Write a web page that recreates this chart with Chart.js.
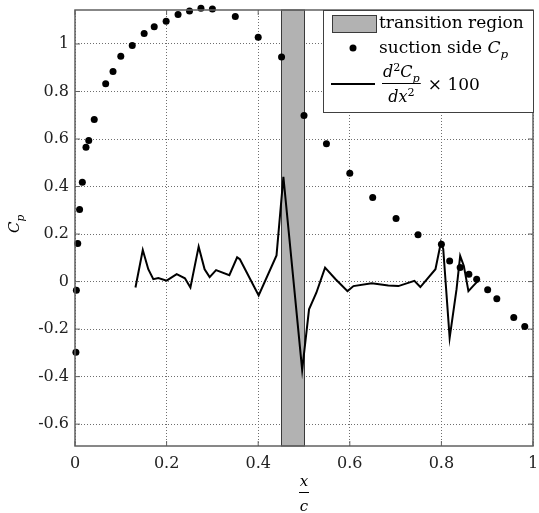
<!DOCTYPE html>
<html>
<head>
<meta charset="utf-8">
<script src="https://cdn.jsdelivr.net/npm/chart.js@4/dist/chart.umd.min.js"></script>
<style>
    html, body { margin: 0; padding: 0; background: #fff; }
    #wrap { width: 539px; height: 513px; }
</style>
</head>
<body>
<div id="wrap"><canvas id="cp-chart"></canvas></div>
<script>
// Suction side Cp (x/c, Cp)
var cpX = [0.002, 0.003, 0.006, 0.010, 0.016, 0.024, 0.030, 0.042, 0.067, 0.083, 0.100, 0.125, 0.151, 0.173, 0.199, 0.225, 0.250, 0.275, 0.300, 0.350, 0.400, 0.451, 0.500, 0.549, 0.600, 0.650, 0.701, 0.749, 0.800, 0.818, 0.841, 0.860, 0.877, 0.901, 0.921, 0.958, 0.982];
var cpY = [-0.297, -0.036, 0.160, 0.303, 0.418, 0.565, 0.594, 0.682, 0.833, 0.884, 0.948, 0.994, 1.044, 1.073, 1.096, 1.124, 1.139, 1.150, 1.147, 1.116, 1.028, 0.945, 0.699, 0.580, 0.456, 0.354, 0.265, 0.197, 0.157, 0.087, 0.059, 0.031, 0.010, -0.034, -0.072, -0.151, -0.189];

// Second derivative x 100 (x/c, value)
var d2X = [0.132, 0.148, 0.160, 0.171, 0.182, 0.200, 0.222, 0.240, 0.252, 0.270, 0.283, 0.294, 0.308, 0.337, 0.354, 0.360, 0.401, 0.440, 0.455, 0.496, 0.511, 0.527, 0.546, 0.569, 0.595, 0.608, 0.648, 0.684, 0.706, 0.741, 0.754, 0.787, 0.799, 0.804, 0.818, 0.833, 0.841, 0.849, 0.859, 0.869, 0.880];
var d2Y = [-0.025, 0.133, 0.052, 0.010, 0.015, 0.004, 0.031, 0.014, -0.025, 0.147, 0.052, 0.019, 0.048, 0.027, 0.102, 0.094, -0.058, 0.110, 0.441, -0.372, -0.117, -0.047, 0.059, 0.010, -0.040, -0.019, -0.007, -0.016, -0.019, 0.003, -0.023, 0.052, 0.165, 0.137, -0.237, -0.033, 0.108, 0.066, -0.040, -0.019, 0.003];

// Transition region bounds (x/c)
var transitionStart = 0.45;
var transitionEnd = 0.5;

// Axis ranges and ticks
var xRange = [0, 1];
var yRange = [-0.692, 1.143];
var xTicks = [0, 0.2, 0.4, 0.6, 0.8, 1];
var yTicks = [-0.6, -0.4, -0.2, 0, 0.2, 0.4, 0.6, 0.8, 1];

var serif = '"DejaVu Serif", serif';

function toPoints(xs, ys) {
    return xs.map(function (x, i) { return { x: x, y: ys[i] }; });
}

/**
 * Draw italic math text with optional sub/superscripts, returns end x
 */
function mathText(ctx, parts, x, y, size) {
    parts.forEach(function (p) {
        var s = p.small ? size * 0.7 : size;
        ctx.font = (p.italic ? 'italic ' : '') + s + 'px ' + serif;
        var dy = p.sub ? size * 0.3 : (p.sup ? -size * 0.4 : 0);
        ctx.fillText(p.t, x, y + dy);
        x += ctx.measureText(p.t).width;
    });
    return x;
}

function mathWidth(ctx, parts, size) {
    var w = 0;
    parts.forEach(function (p) {
        var s = p.small ? size * 0.7 : size;
        ctx.font = (p.italic ? 'italic ' : '') + s + 'px ' + serif;
        w += ctx.measureText(p.t).width;
    });
    return w;
}

var decorPlugin = {
    id: 'decor',
    beforeDatasetsDraw: function (chart) {
        var ctx = chart.ctx;
        var xs = chart.scales.x, area = chart.chartArea;
        var x0 = xs.getPixelForValue(transitionStart);
        var x1 = xs.getPixelForValue(transitionEnd);
        ctx.save();
        ctx.fillStyle = '#b2b2b2';
        ctx.fillRect(x0, area.top, x1 - x0, area.bottom - area.top);
        ctx.strokeStyle = '#3a3a3a';
        ctx.lineWidth = 1;
        ctx.strokeRect(Math.round(x0) + 0.5, area.top, Math.round(x1 - x0), area.bottom - area.top);
        ctx.restore();
    },
    afterDraw: function (chart) {
        var ctx = chart.ctx;
        var area = chart.chartArea;
        var xs = chart.scales.x, ys = chart.scales.y;
        ctx.save();

        // Axes box
        ctx.strokeStyle = '#606060';
        ctx.lineWidth = 1.5;
        ctx.strokeRect(area.left, area.top, area.right - area.left, area.bottom - area.top);

        // Inward tick marks
        ctx.lineWidth = 1;
        ctx.beginPath();
        xTicks.forEach(function (v) {
            var px = xs.getPixelForValue(v);
            ctx.moveTo(px, area.bottom); ctx.lineTo(px, area.bottom - 5);
            ctx.moveTo(px, area.top); ctx.lineTo(px, area.top + 5);
        });
        yTicks.forEach(function (v) {
            var py = ys.getPixelForValue(v);
            ctx.moveTo(area.left, py); ctx.lineTo(area.left + 5, py);
            ctx.moveTo(area.right, py); ctx.lineTo(area.right - 5, py);
        });
        ctx.stroke();

        // Legend box
        var lx = 323, ly = area.top, lw = area.right - lx, lh = 102;
        ctx.fillStyle = '#fff';
        ctx.fillRect(lx, ly, lw, lh);
        ctx.strokeStyle = '#404040';
        ctx.lineWidth = 1;
        ctx.strokeRect(lx + 0.5, ly + 0.5, lw, lh);

        ctx.fillStyle = '#000';
        ctx.textBaseline = 'alphabetic';
        ctx.textAlign = 'left';

        // Entry 1: transition region
        ctx.fillStyle = '#b2b2b2';
        ctx.fillRect(332, 15, 44, 17);
        ctx.strokeStyle = '#3a3a3a';
        ctx.strokeRect(332.5, 15.5, 44, 17);
        ctx.fillStyle = '#000';
        ctx.font = '17px ' + serif;
        ctx.fillText('transition region', 379, 28);

        // Entry 2: suction side Cp
        ctx.beginPath();
        ctx.arc(353, 48, 3.5, 0, Math.PI * 2);
        ctx.fill();
        ctx.font = '17px ' + serif;
        ctx.fillText('suction side ', 379, 53);
        var w2 = ctx.measureText('suction side ').width;
        mathText(ctx, [{ t: 'C', italic: true }, { t: 'p', italic: true, small: true, sub: true }], 379 + w2, 53, 17);

        // Entry 3: d2Cp/dx2 x 100
        ctx.strokeStyle = '#000';
        ctx.lineWidth = 2;
        ctx.beginPath();
        ctx.moveTo(331, 84); ctx.lineTo(375, 84);
        ctx.stroke();
        var num = [{ t: 'd', italic: true }, { t: '2', small: true, sup: true }, { t: 'C', italic: true }, { t: 'p', italic: true, small: true, sub: true }];
        var den = [{ t: 'dx', italic: true }, { t: '2', small: true, sup: true }];
        var nw = mathWidth(ctx, num, 16), dw = mathWidth(ctx, den, 16);
        var fw = Math.max(nw, dw) + 2;
        mathText(ctx, num, 382 + (fw - nw) / 2, 77, 16);
        mathText(ctx, den, 382 + (fw - dw) / 2, 102, 16);
        ctx.lineWidth = 1;
        ctx.beginPath();
        ctx.moveTo(382, 83.5); ctx.lineTo(382 + fw, 83.5);
        ctx.stroke();
        ctx.font = '17px ' + serif;
        ctx.fillText('\u00d7 100', 382 + fw + 7, 90);

        // X axis label: x / c
        var cx = (area.left + area.right) / 2;
        ctx.textAlign = 'center';
        ctx.font = 'italic 15px ' + serif;
        ctx.fillText('x', cx, 486);
        ctx.fillText('c', cx, 511);
        ctx.beginPath();
        ctx.moveTo(cx - 5, 492.5); ctx.lineTo(cx + 5, 492.5);
        ctx.stroke();

        // Y axis label: Cp
        ctx.translate(19, 224);
        ctx.rotate(-Math.PI / 2);
        ctx.textAlign = 'left';
        var yw = mathWidth(ctx, [{ t: 'C', italic: true }, { t: 'p', italic: true, small: true, sub: true }], 15);
        mathText(ctx, [{ t: 'C', italic: true }, { t: 'p', italic: true, small: true, sub: true }], -yw / 2, 0, 15);

        ctx.restore();
    }
};

var chart = new Chart(document.getElementById('cp-chart').getContext('2d'), {
    type: 'scatter',
    data: {
        datasets: [{
            label: 'd2Cp/dx2 x 100',
            data: toPoints(d2X, d2Y),
            showLine: true,
            borderColor: '#000',
            borderWidth: 2,
            pointRadius: 0,
            tension: 0,
            fill: false
        }, {
            label: 'suction side Cp',
            data: toPoints(cpX, cpY),
            showLine: false,
            backgroundColor: '#000',
            borderColor: '#000',
            pointRadius: 3.5,
            borderWidth: 0,
            clip: false
        }]
    },
    options: {
        responsive: true,
        maintainAspectRatio: false,
        animation: false,
        layout: {
            padding: { top: 10, right: 6, left: 0, bottom: 0 }
        },
        plugins: {
            legend: { display: false },
            tooltip: { enabled: false }
        },
        scales: {
            x: {
                type: 'linear',
                min: xRange[0],
                max: xRange[1],
                afterBuildTicks: function (scale) {
                    scale.ticks = xTicks.map(function (v) { return { value: v }; });
                },
                afterFit: function (scale) {
                    scale.height = 67;
                    scale.paddingLeft = 0;
                    scale.paddingRight = 0;
                },
                ticks: {
                    color: '#222',
                    padding: 8,
                    maxRotation: 0,
                    font: { family: serif, size: 16 },
                    callback: function (v) { return String(Math.round(v * 10) / 10); }
                },
                grid: {
                    color: '#6e6e6e',
                    lineWidth: 1,
                    drawTicks: false
                },
                border: { display: false, dash: [1, 2] }
            },
            y: {
                type: 'linear',
                min: yRange[0],
                max: yRange[1],
                afterBuildTicks: function (scale) {
                    scale.ticks = yTicks.map(function (v) { return { value: v }; });
                },
                afterFit: function (scale) {
                    scale.width = 75;
                    scale.paddingTop = 0;
                    scale.paddingBottom = 0;
                },
                ticks: {
                    color: '#222',
                    padding: 6,
                    font: { family: serif, size: 16 },
                    callback: function (v) { return String(Math.round(v * 10) / 10); }
                },
                grid: {
                    color: '#6e6e6e',
                    lineWidth: 1,
                    drawTicks: false
                },
                border: { display: false, dash: [1, 2] }
            }
        }
    },
    plugins: [decorPlugin]
});
</script>
</body>
</html>
